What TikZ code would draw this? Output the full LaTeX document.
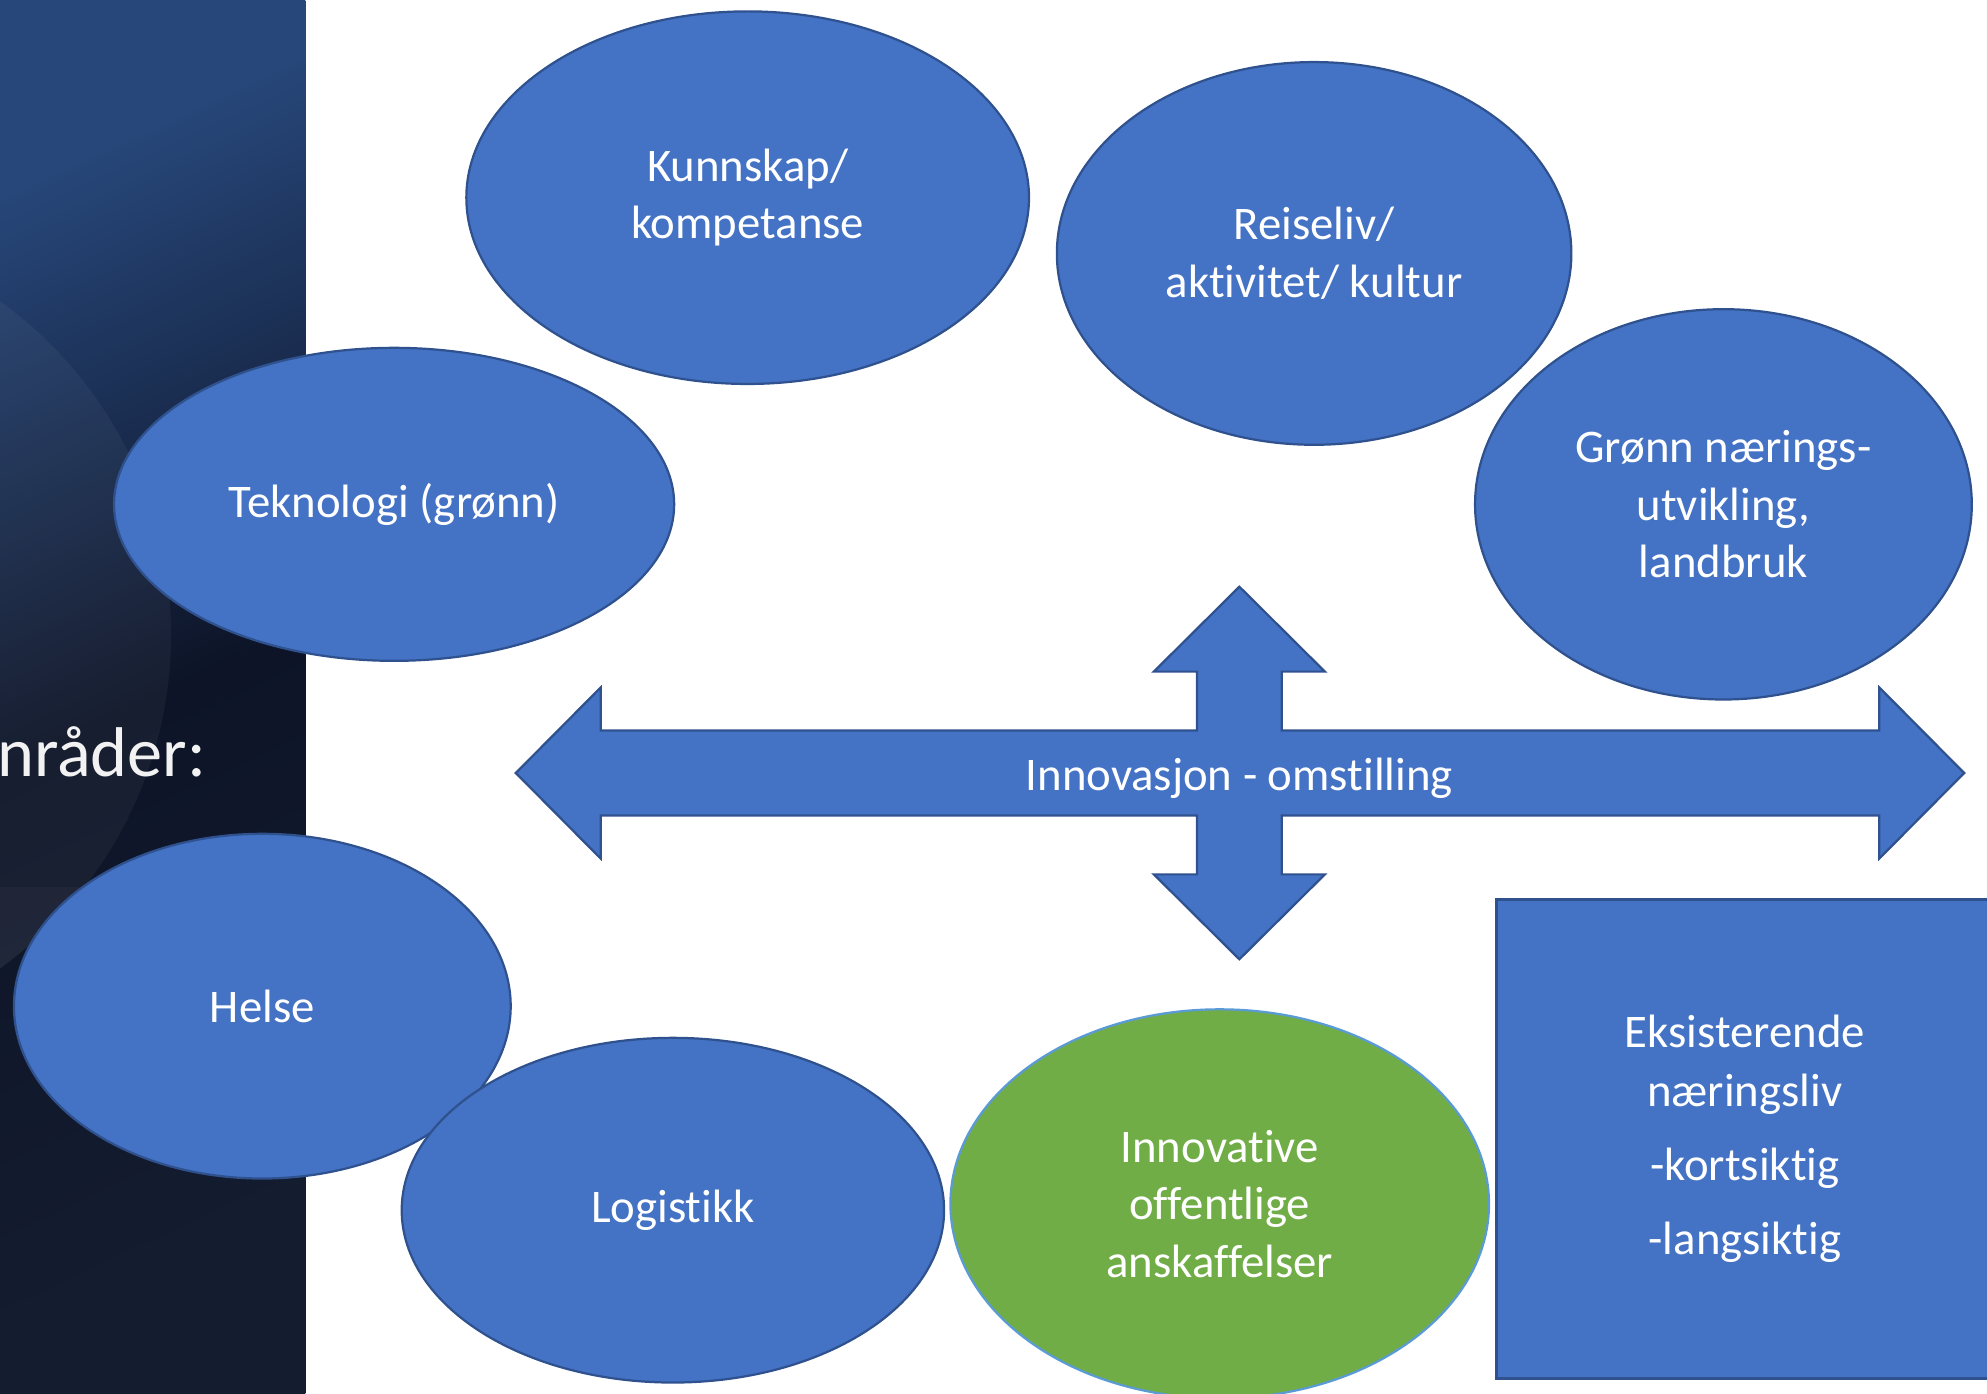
\documentclass[tikz,border=0pt]{standalone}
\usepackage{fontspec}
\setmainfont{Carlito}[Ligatures=NoCommon]
\usepackage{tikz}
\usetikzlibrary{shapes.geometric}
\definecolor{ppblue}{HTML}{4472C4}
\definecolor{ppedge}{HTML}{2F528F}
\definecolor{ppgreen}{HTML}{70AD47}
\definecolor{pplight}{HTML}{5B9BD5}
\definecolor{paneltop}{HTML}{27477A}
\definecolor{panelmid}{HTML}{0D1427}
\definecolor{panelbot}{HTML}{141C30}
\tikzset{
 bubble/.style={ellipse, draw=ppedge, fill=ppblue, line width=0.5pt, inner sep=0pt,
  text=white, align=center, font=\fontsize{10.5pt}{12.9pt}\selectfont},
 greenbubble/.style={bubble, draw=pplight, fill=ppgreen},
 infobox/.style={rectangle, draw=ppedge, fill=ppblue, line width=0.5pt, inner sep=0pt,
  text=white, align=center, font=\fontsize{10.5pt}{13.1pt}\selectfont}
}

\begin{document}
\begin{tikzpicture}
 \useasboundingbox (0,0) rectangle (15.68,11);
 %side panel
 \shade[top color=paneltop, bottom color=panelbot, middle color=panelmid, shading angle=25] (0,0) rectangle (2.41,11);
 \begin{scope}
  \clip (0,0) rectangle (2.41,11);
  \fill[white, opacity=0.045] (-1.89,5.99) circle(3.24);
  \clip (-1.89,5.99) circle(3.24);
  \fill[white, opacity=0.03] (0,0) rectangle (2.41,4.00);
 \end{scope}
 \node[anchor=base west, inner sep=0pt, text=white!95!black, font=\fontsize{15.8pt}{18pt}\selectfont] (title) at (-0.03,4.87) {nråder:};

 %top row
 \node[bubble, minimum width=4.44cm, minimum height=2.94cm] (kunnskap) at (5.90,9.44) {Kunnskap/\\kompetanse};
 \node[bubble, minimum width=4.06cm, minimum height=3.02cm] (reiseliv) at (10.37,9.00) {Reiseliv/\\aktivitet/ kultur};
 \node[bubble, minimum width=4.42cm, minimum height=2.47cm] (teknologi) at (3.11,7.02) {Teknologi (grønn)};
 \node[bubble, minimum width=3.92cm, minimum height=3.08cm] (gronn) at (13.60,7.02) {Grønn nærings-\\utvikling,\\landbruk};

 %cross arrow
 \fill[ppblue, draw=ppedge, line width=0.5pt] (4.07,4.90) -- (4.74,5.575) -- (4.74,5.235) -- (9.445,5.235) -- (9.445,5.70) -- (9.105,5.70) -- (9.78,6.37) -- (10.455,5.70) -- (10.115,5.70) -- (10.115,5.235) -- (14.83,5.235) -- (14.83,5.575) -- (15.50,4.90) -- (14.83,4.225) -- (14.83,4.565) -- (10.115,4.565) -- (10.115,4.10) -- (10.455,4.10) -- (9.78,3.43) -- (9.105,4.10) -- (9.445,4.10) -- (9.445,4.565) -- (4.74,4.565) -- (4.74,4.225) -- cycle;
 \node[text=white, font=\fontsize{10.5pt}{12.8pt}\selectfont] (innovasjon) at (9.78,4.86) {Innovasjon - omstilling};

 %bottom row
 \node[bubble, minimum width=3.92cm, minimum height=2.72cm] (helse) at (2.07,3.06) {Helse};
 \node[bubble, minimum width=4.28cm, minimum height=2.72cm] (logistikk) at (5.31,1.45) {Logistikk};
 \node[greenbubble, minimum width=4.25cm, minimum height=3.07cm] (anskaffelser) at (9.625,1.50) {Innovative\\offentlige\\anskaffelser};
 \node[infobox, anchor=north west, minimum width=3.92cm, minimum height=3.78cm] (eksisterende) at (11.80,3.91) {Eksisterende\\næringsliv\\[3.6pt]-kortsiktig\\[3.6pt]-langsiktig};
\end{tikzpicture}
\end{document}
